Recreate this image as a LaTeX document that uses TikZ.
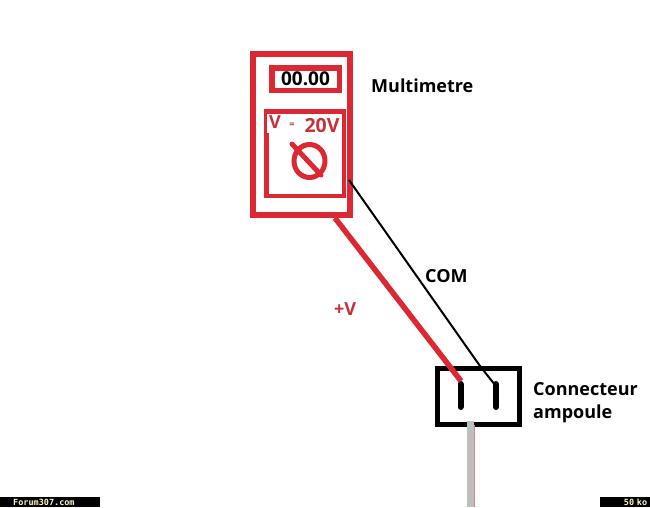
\documentclass[tikz,border=0pt]{standalone}
\usepackage{fontspec}
\usetikzlibrary{shapes.geometric}
\setmainfont{Open Sans}
\newfontfamily\footfont{DejaVu Sans Mono}
\definecolor{mred}{HTML}{DC2832}
\definecolor{lred}{HTML}{C8303A}
\definecolor{wgrey}{HTML}{BEBEBE}
\definecolor{footy}{HTML}{FFF8C8}
\tikzset{
  redbox/.style={draw=mred,fill=white,line width=#1,inner sep=0pt},
  blackwire/.style={draw=black,line width=2pt},
  pin/.style={draw=black,line width=6pt,line cap=round},
  lbl/.style={font=\bfseries\fontsize{18}{20}\selectfont,text=black,align=left,inner sep=0pt},
  redlbl/.style={font=\bfseries\fontsize{18}{20}\selectfont,text=lred,inner sep=0pt},
  footbar/.style={fill=black,text=footy,font=\footfont\bfseries\fontsize{8.5}{8.5}\selectfont,inner sep=0pt,anchor=west}
}
\begin{document}
\begin{tikzpicture}[x=1pt,y=-1pt]
\useasboundingbox (0,0) rectangle (650,507);
\fill[white] (0,0) rectangle (650,507);
% multimeter
\node[redbox=6pt,minimum width=97pt,minimum height=161pt] (meter) at (301.5,134.5) {};
\node[redbox=5.5pt,minimum width=67.5pt,minimum height=22.5pt,
  font=\bfseries\fontsize{19}{19}\selectfont,text=black] (display) at (305.5,79) {00.00};
\node[redbox=4.5pt,minimum width=77.5pt,minimum height=84.5pt] (panel) at (305,153.5) {};
\fill[white] (267,114) rectangle (342,133);
\node[font=\bfseries\fontsize{18}{18}\selectfont,text=lred,inner sep=0pt] (vlab) at (275,122) {V};
\node[font=\bfseries\fontsize{19.5}{19.5}\selectfont,text=lred,inner sep=0pt] (range) at (322,125.5) {20V};
\node[font=\bfseries\fontsize{9}{9}\selectfont,text=lred,inner sep=0pt] (dc) at (292,125) {=};
\node[draw=mred,line width=5pt,ellipse,minimum width=31pt,minimum height=33pt,inner sep=0pt] (knob) at (309.5,161) {};
\coordinate (kA) at (292,144);
\coordinate (kB) at (321,175);
\draw[mred,line width=5pt,line cap=round] (kA) -- (kB);
% connector
\node[draw=black,line width=5pt,fill=white,minimum width=82pt,minimum height=56pt,inner sep=0pt] (conn) at (478.5,396.5) {};
\coordinate (p1t) at (460.5,384);
\coordinate (p1b) at (460.5,407);
\coordinate (p2t) at (496,384);
\coordinate (p2b) at (496,407);
\draw[pin] (p1t) -- (p1b);
\draw[pin] (p2t) -- (p2b);
% cable
\coordinate (cabA) at (470.5,421);
\coordinate (cabB) at (470.5,507);
\coordinate (cabC) at (474.5,425);
\coordinate (cabD) at (474.5,507);
\draw[wgrey,line width=7pt] (cabA) -- (cabB);
\draw[lred!60,line width=0.8pt] (cabC) -- (cabD);
% wires
\coordinate (redS) at (335,218);
\coordinate (redE) at (461,381);
\coordinate (blkS) at (349,180);
\coordinate (blkM) at (480,366);
\coordinate (blkE) at (495,385);
\draw[mred,line width=5.5pt] (redS) -- (redE);
\draw[blackwire] (blkS) -- (blkM) -- (blkE);
% labels
\node[lbl,anchor=west] (mm) at (371,86) {Multimetre};
\node[lbl,anchor=west] (com) at (425,276) {COM};
\node[redlbl,anchor=west] (plus) at (334,309) {+V};
\node[lbl,anchor=west] (c1) at (533,389) {Connecteur};
\node[lbl,anchor=west] (c2) at (533,414) {ampoule};
% footers
\node[footbar,minimum width=100pt,minimum height=10pt,text width=98pt,align=left] (fa) at (0,502) {\hspace*{12pt}Forum307.com};
\node[footbar,minimum width=50pt,minimum height=10pt,text width=44pt,align=right] (fb) at (600,502) {50 ko};
\end{tikzpicture}
\end{document}
